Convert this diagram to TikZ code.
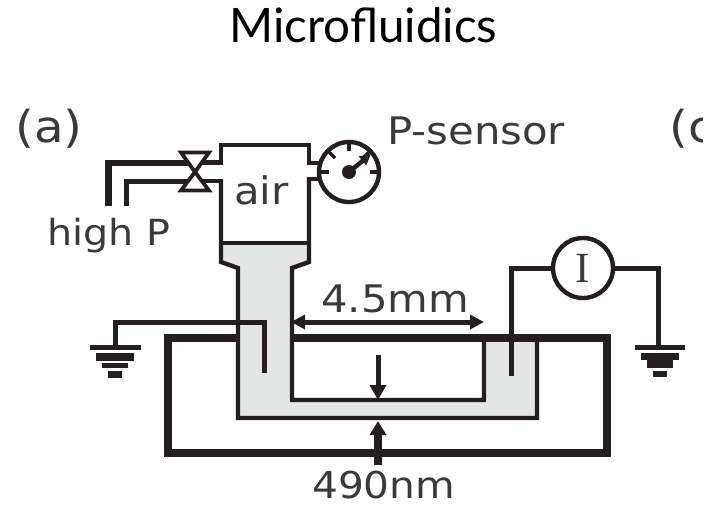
\documentclass[tikz,border=0pt]{standalone}
\usepackage{fontspec}
\setmainfont[FakeStretch=1.1]{DejaVu Sans}
\newfontfamily\titlefont{Lato}
\usetikzlibrary{arrows.meta}
\definecolor{ink}{HTML}{231F20}
\definecolor{txt}{HTML}{3A3A3A}
\definecolor{liquid}{HTML}{E4E6E5}
\tikzset{
 wire/.style={draw=ink,line width=4.4pt,line cap=butt,line join=miter},
 thick wire/.style={draw=ink,line width=7.5pt,line join=miter},
 lab/.style={anchor=base west,inner sep=0pt,text=txt,font=\fontsize{38}{38}\selectfont},
 paren/.style={lab,font=\fontsize{44}{44}\selectfont},
 ring/.style={circle,draw=ink,line width=4.4pt,fill=white,minimum size=60pt,inner sep=0pt},
 bar/.style={fill=ink,draw=none},
 tick/.style={draw=ink,line width=3.4pt},
}
\begin{document}
\begin{tikzpicture}[x=1pt,y=-1pt]
\useasboundingbox (0,0) rectangle (716,507);
% liquid
\fill[liquid] (221,243) -- (309,243) -- (309,262) -- (292,268) -- (292,400) -- (484,400) -- (484,338) -- (537,338) -- (537,418) -- (238,418) -- (238,268) -- (221,262) -- cycle;
% outer block
\draw[thick wire] (238,338) -- (168,338) -- (168,453) -- (607,453) -- (607,338) -- (291,338);
% channel
\draw[wire] (221,164) -- (221,145) -- (309,145) -- (309,165);
\draw[wire] (221,180) -- (221,262) -- (238,268) -- (238,418) -- (537,418) -- (537,338);
\draw[wire] (309,177) -- (309,262) -- (292,268) -- (292,400) -- (484,400) -- (484,338);
\draw[wire] (221,243) -- (309,243);
% valve side ports
\draw[wire] (195,162.5) -- (223,162.5);
\draw[wire] (195,181) -- (223,181);
\draw[wire] (307,163) -- (322,163);
\draw[wire] (307,179) -- (322,179);
% high pressure lines
\draw[draw=ink,line width=7pt] (108.5,206) -- (108.5,160);
\draw[draw=ink,line width=6pt] (105,163) -- (190,163);
\draw[draw=ink,line width=5pt,line join=miter] (126.5,206) -- (126.5,181.5) -- (190,181.5);
% valve
\draw[draw=ink,line width=3.8pt,fill=white,line join=miter] (195,172) -- (181,152.5) -- (209,152.5) -- cycle;
\draw[draw=ink,line width=3.8pt,fill=white,line join=miter] (195,172) -- (181,190.5) -- (209,190.5) -- cycle;
% gauge
\node[ring] (gauge) at (349,172) {};
\draw[tick] (349,142) -- (349,151);
\draw[tick] (328,151) -- (335,158);
\draw[tick] (319,172) -- (329,172);
\draw[tick] (370,172) -- (379,172);
\draw[tick] (370,151) -- (364,157);
\fill[ink] (gauge.center) circle (7);
\draw[ink,line width=4.5pt,-{Triangle[length=11pt,width=11pt]}] (gauge.center) -- (371,154);
% left electrode and ground
\coordinate (gndL) at (115,347);
\draw[wire,line width=5pt] (264,373) -- (264,322) -- (115,322) -- (gndL);
\fill[bar] (90,344.5) rectangle (141,350);
\fill[bar] (96,353) rectangle (134,361);
\fill[bar] (102,363) rectangle (128,368);
\fill[bar] (108,371) rectangle (122,378);
% ammeter
\node[ring] (amm) at (583,268) {};
\coordinate (gndR) at (658,347);
\draw[wire,line width=5pt] (511,376) -- (511,268) -- (amm.west);
\draw[wire,line width=5pt] (amm.east) -- (658,268) -- (gndR);
\fill[bar] (635,345) rectangle (685,350);
\fill[bar] (641,353) rectangle (679,360);
\fill[bar] (647,360) rectangle (673,368);
\fill[bar] (653,371) rectangle (667,377);
\node[anchor=center,inner sep=0pt,text=txt,font=\fontsize{43}{43}\selectfont\fontspec{Liberation Serif}] (ammI) at (583,268) {I};
% dimension arrows
\coordinate (dimL) at (291,322); \coordinate (dimR) at (484,322);
\draw[ink,line width=5pt,{Triangle[length=14pt,width=14pt]}-{Triangle[length=14pt,width=14pt]}] (dimL) -- (dimR);
\coordinate (topGapS) at (378,355); \coordinate (topGapE) at (378,400);
\draw[ink,line width=5pt,-{Triangle[length=15pt,width=16pt]}] (topGapS) -- (topGapE);
\coordinate (botGapS) at (378,465); \coordinate (botGapE) at (378,421);
\draw[ink,line width=8.5pt,-{Triangle[length=14pt,width=16pt]}] (botGapS) -- (botGapE);
% labels
\node[anchor=base,inner sep=0pt,text=black,font=\fontsize{47.5}{47.5}\selectfont\titlefont] (title) at (363.5,42) {Microfluidics};
\node[paren] (a) at (15,142) {(a)};
\node[lab] (ps) at (387,144) {P-sensor};
\node[lab] (air) at (234,204) {air};
\node[lab,font=\fontsize{36}{36}\selectfont] (hp) at (47,245) {high P};
\node[lab] (dim) at (321,312) {4.5mm};
\node[lab,font=\fontsize{37}{37}\selectfont] (nm) at (312,498.5) {490nm};
\begin{scope}
\clip (660,90) rectangle (702,160);
\node[paren] (c) at (669,142) {(c};
\end{scope}
\end{tikzpicture}
\end{document}
